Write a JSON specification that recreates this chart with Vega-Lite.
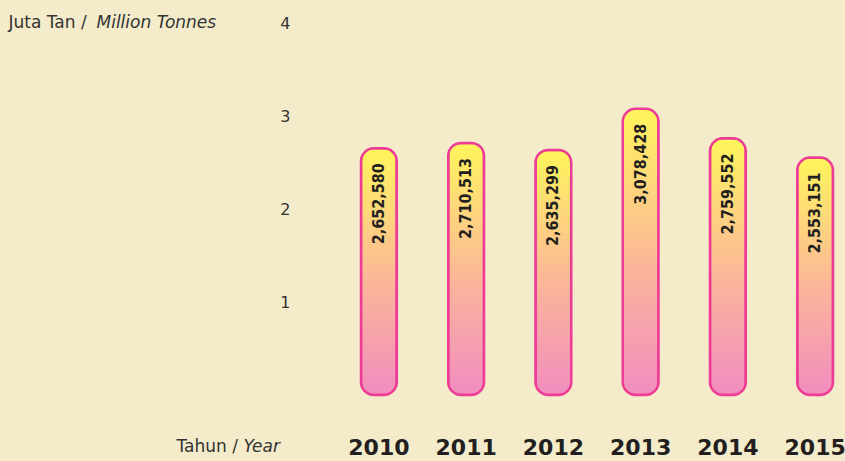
{
  "$schema": "https://vega.github.io/schema/vega-lite/v6.json",
  "autosize": {"type": "none"},
  "width": 494,
  "height": 372,
  "padding": {"left": 350, "top": 23, "right": 1, "bottom": 66},
  "background": "#f3ebca",
  "config": {"view": {"stroke": null}},
  "data": {"values": [
    {"year": "2010", "tonnes": 2652580, "label": "2,652,580"},
    {"year": "2011", "tonnes": 2710513, "label": "2,710,513"},
    {"year": "2012", "tonnes": 2635299, "label": "2,635,299"},
    {"year": "2013", "tonnes": 3078428, "label": "3,078,428"},
    {"year": "2014", "tonnes": 2759552, "label": "2,759,552"},
    {"year": "2015", "tonnes": 2553151, "label": "2,553,151"}
  ]},
  "encoding": {
    "x": {"field": "year", "type": "nominal", "sort": null,
      "scale": {"paddingInner": 0.59, "paddingOuter": 0.126}}
  },
  "layer": [
    {
      "mark": {"type": "bar", "cornerRadius": 13, "stroke": "#ee3b95", "strokeWidth": 2.5,
        "color": {"gradient": "linear", "x1": 0, "y1": 1, "x2": 0, "y2": 0,
          "stops": [
            {"offset": 0, "color": "#f18dbf"},
            {"offset": 0.45, "color": "#fbb59a"},
            {"offset": 0.75, "color": "#fed87a"},
            {"offset": 1, "color": "#fff55a"}
          ]}},
      "encoding": {
        "x": {"field": "year", "type": "nominal", "sort": null,
          "axis": {"orient": "bottom", "title": "Tahun / ", "domain": false, "ticks": false, "tickSize": 0,
            "labelAngle": 0, "labelFont": "DejaVu Sans", "labelFontWeight": "bold", "labelFontSize": 22,
            "labelColor": "#231f20", "labelBaseline": "alphabetic", "labelPadding": 59,
            "titleFont": "DejaVu Sans", "titleFontWeight": "normal", "titleFontSize": 17, "titleColor": "#333333",
            "titleAnchor": "start", "titleAlign": "left", "titleBaseline": "alphabetic", "titleX": -174, "titleY": 56.7}},
        "y": {"field": "tonnes", "type": "quantitative",
          "scale": {"domain": [0, 4000000], "nice": false},
          "axis": {"orient": "left", "title": "Juta Tan / ", "values": [1000000, 2000000, 3000000, 4000000],
            "labelExpr": "format(datum.value / 1000000, 'd')", "grid": false, "domain": false, "ticks": false, "tickSize": 0,
            "labelPadding": 60, "labelFont": "DejaVu Sans", "labelFontSize": 16, "labelColor": "#333333",
            "titleFont": "DejaVu Sans", "titleFontWeight": "normal", "titleFontSize": 17, "titleColor": "#333333",
            "titleAngle": 0, "titleAlign": "left", "titleBaseline": "alphabetic", "titleAnchor": "start", "titleX": -342, "titleY": 4}}
      }
    },
    {
      "mark": {"type": "text", "angle": 270, "align": "right", "baseline": "middle", "dx": -15,
        "font": "DejaVu Sans Condensed", "fontWeight": "bold", "fontSize": 16, "color": "#231f20"},
      "encoding": {
        "x": {"field": "year", "type": "nominal", "sort": null,
          "axis": {"orient": "top", "title": "Year", "labels": false, "domain": false, "ticks": false,
            "titleFont": "DejaVu Sans", "titleFontWeight": "normal", "titleFontStyle": "italic", "titleFontSize": 17, "titleColor": "#333333",
            "titleAnchor": "start", "titleAlign": "left", "titleBaseline": "alphabetic", "titleX": -107, "titleY": 428.7}},
        "y": {"field": "tonnes", "type": "quantitative",
          "axis": {"orient": "right", "title": "Million Tonnes", "labels": false, "grid": false, "domain": false, "ticks": false,
            "titleFont": "DejaVu Sans", "titleFontWeight": "normal", "titleFontStyle": "italic", "titleFontSize": 17, "titleColor": "#333333",
            "titleAngle": 0, "titleAlign": "left", "titleBaseline": "alphabetic", "titleAnchor": "start", "titleX": -748, "titleY": 4}},
        "text": {"field": "label"}
      }
    }
  ],
  "resolve": {"axis": {"x": "independent", "y": "independent"}}
}
